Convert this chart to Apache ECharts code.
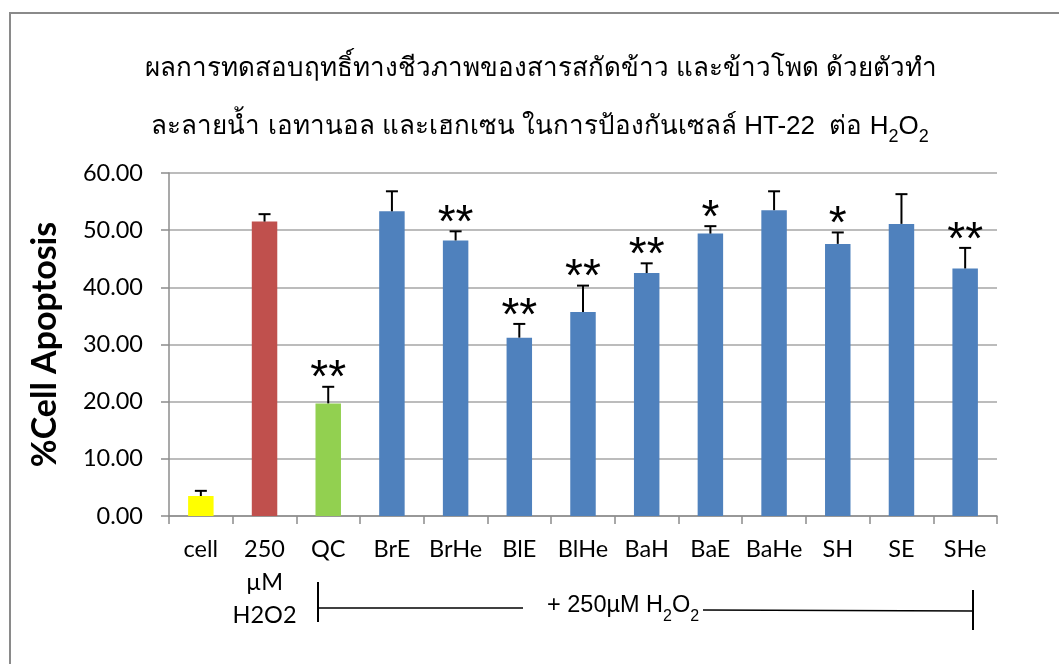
<!DOCTYPE html>
<html>
<head>
<meta charset="utf-8">
<script src="https://cdn.jsdelivr.net/npm/echarts@6/dist/echarts.min.js"></script>
<style>
  html, body { margin: 0; padding: 0; background: #fff; }
  #chart { width: 1059px; height: 664px; }
</style>
</head>
<body>
<div id="chart"></div>
<script>
// Treatment groups shown on the x axis
const categories = ['cell', '250\nµM\nH2O2', 'QC', 'BrE', 'BrHe', 'BlE', 'BlHe', 'BaH', 'BaE', 'BaHe', 'SH', 'SE', 'SHe'];
// Mean % cell apoptosis per group
const apoptosis = [3.5, 51.5, 19.7, 53.3, 48.2, 31.2, 35.7, 42.5, 49.4, 53.5, 47.6, 51.1, 43.3];
// Upper error (SD) per group
const errors = [0.9, 1.3, 2.9, 3.5, 1.6, 2.4, 4.6, 1.7, 1.3, 3.3, 2.0, 5.2, 3.6];
// Significance marks above each group
const significance = ['', '', '**', '', '**', '**', '**', '**', '*', '', '*', '', '**'];
// Y axis ticks
const yTicks = [0, 10, 20, 30, 40, 50, 60];

const groupColors = ['#FFFF00', '#C0504D', '#92D050'];
const defaultColor = '#4F81BD';
const thaiFont = 'sans-serif';

const chart = echarts.init(document.getElementById('chart'));

const titleLine1 = 'ผลการทดสอบฤทธิ์ทางชีวภาพของสารสกัดข้าว และข้าวโพด ด้วยตัวทำ';
const titleLine2 = 'ละลายน้ำ เอทานอล และเฮกเซน ในการป้องกันเซลล์ HT-22  ต่อ H{sub|2}O{sub|2}';

chart.setOption({
  animation: false,
  backgroundColor: '#fff',
  grid: { left: 169, right: 62, top: 173, bottom: 148, containLabel: false },
  xAxis: {
    type: 'category',
    data: categories,
    axisLine: { lineStyle: { color: '#8c8c8c', width: 1.5 } },
    axisTick: { show: true, length: 8, alignWithLabel: false, lineStyle: { color: '#8c8c8c', width: 1.5 } },
    axisLabel: {
      interval: 0, margin: 17, color: '#000',
      fontFamily: 'Lato', fontSize: 23.5, lineHeight: 33
    }
  },
  yAxis: {
    type: 'value',
    min: yTicks[0], max: yTicks[yTicks.length - 1], interval: 10,
    name: '%Cell Apoptosis',
    nameLocation: 'middle',
    nameGap: 107,
    nameTextStyle: { color: '#000', fontFamily: 'Lato', fontWeight: 'bold', fontSize: 34 },
    axisLine: { show: true, lineStyle: { color: '#8c8c8c', width: 1.5 } },
    axisTick: { show: true, length: 8, lineStyle: { color: '#8c8c8c', width: 1.5 } },
    axisLabel: {
      margin: 26, color: '#000', fontFamily: 'Lato', fontSize: 23.5,
      formatter: v => v.toFixed(2)
    },
    splitLine: { lineStyle: { color: '#a6a6a6', width: 1.5 } }
  },
  series: [
    {
      type: 'bar',
      data: apoptosis,
      barWidth: '40%',
      itemStyle: {
        color: p => groupColors[p.dataIndex] || defaultColor
      },
      z: 2
    },
    {
      type: 'custom',
      data: apoptosis.map((v, i) => [i, v, errors[i]]),
      z: 3,
      renderItem: (params, api) => {
        const i = api.value(0);
        const v = api.value(1);
        const e = api.value(2);
        const base = api.coord([i, v]);
        const top = api.coord([i, v + e]);
        const cap = 6;
        const children = [
          { type: 'line', shape: { x1: base[0], y1: base[1], x2: top[0], y2: top[1] },
            style: { stroke: '#000', lineWidth: 2 } },
          { type: 'line', shape: { x1: top[0] - cap, y1: top[1], x2: top[0] + cap, y2: top[1] },
            style: { stroke: '#000', lineWidth: 2 } }
        ];
        const mark = significance[params.dataIndex];
        if (mark) {
          children.push({
            type: 'text',
            style: {
              text: mark, x: top[0], y: top[1] - 7,
              align: 'center', verticalAlign: 'middle',
              fontFamily: 'Liberation Sans', fontSize: 46, fill: '#000'
            }
          });
        }
        return { type: 'group', children };
      }
    }
  ],
  graphic: [
    // outer frame
    { type: 'rect', shape: { x: 10, y: 13, width: 1080, height: 700 },
      style: { fill: null, stroke: '#8a8a8a', lineWidth: 2 }, silent: true },
    // two-line title
    {
      type: 'text', x: 541, y: 69,
      style: {
        text: titleLine1, align: 'center', verticalAlign: 'middle',
        fontFamily: thaiFont, fontSize: 26, fill: '#000'
      }
    },
    {
      type: 'text', x: 540, y: 127,
      style: {
        text: titleLine2, align: 'center', verticalAlign: 'middle',
        fontFamily: thaiFont, fontSize: 26, fill: '#000',
        rich: {
          sub: { fontFamily: thaiFont, fontSize: 18, padding: [20, 0, 0, 0] }
        }
      }
    },
    // treatment bracket
    { type: 'line', shape: { x1: 318, y1: 582, x2: 318, y2: 622 }, style: { stroke: '#000', lineWidth: 2 } },
    { type: 'line', shape: { x1: 318, y1: 608, x2: 523, y2: 608 }, style: { stroke: '#000', lineWidth: 1.5 } },
    { type: 'line', shape: { x1: 703, y1: 610, x2: 972, y2: 611 }, style: { stroke: '#000', lineWidth: 1.5 } },
    { type: 'line', shape: { x1: 973, y1: 590, x2: 973, y2: 630 }, style: { stroke: '#000', lineWidth: 2 } },
    {
      type: 'text', x: 547, y: 606,
      style: {
        text: '+ 250µM H{sub|2}O{sub|2}',
        fontFamily: 'Liberation Sans', fontSize: 23.5, fill: '#000',
        verticalAlign: 'middle',
        rich: {
          sub: { fontFamily: 'Liberation Sans', fontSize: 16, padding: [21, 0, 0, 0] }
        }
      }
    }
  ]
});
</script>
</body>
</html>
